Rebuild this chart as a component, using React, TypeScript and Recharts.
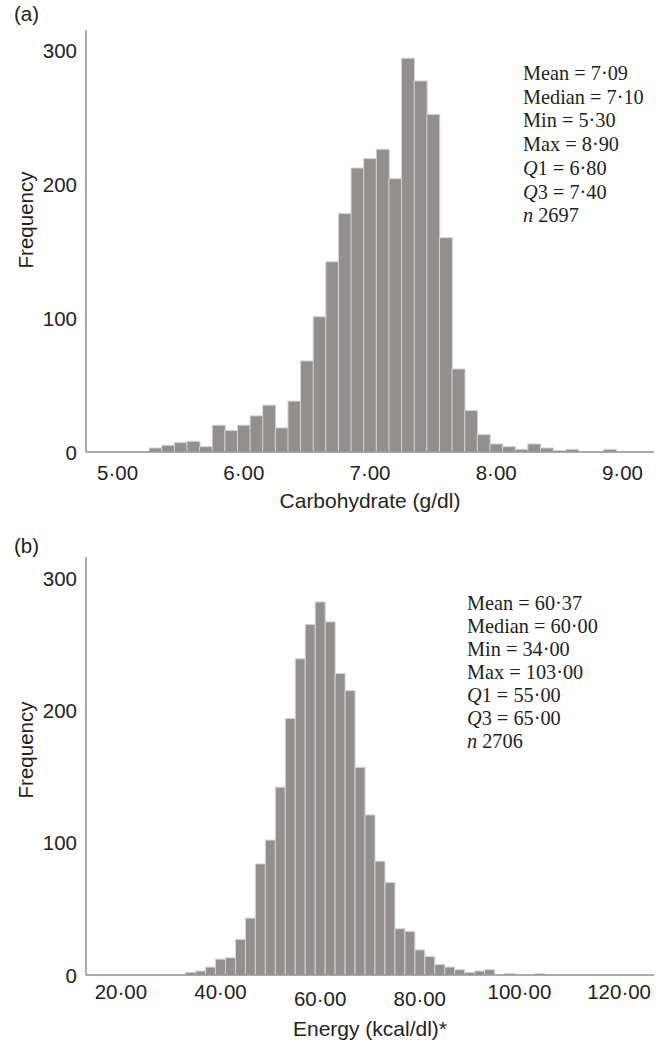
import React from 'react';
import { BarChart, Bar, XAxis, YAxis } from 'recharts';

// ---------- Data: (a) Carbohydrate (g/dl) ----------
const carbBins = [
  5.3, 5.4, 5.5, 5.6, 5.7, 5.8, 5.9, 6.0, 6.1, 6.2, 6.3, 6.4, 6.5, 6.6, 6.7, 6.8, 6.9,
  7.0, 7.1, 7.2, 7.3, 7.4, 7.5, 7.6, 7.7, 7.8, 7.9, 8.0, 8.1, 8.2, 8.3, 8.4, 8.5, 8.6,
  8.7, 8.8, 8.9,
];
const carbCounts = [
  3, 5, 7, 8, 4, 20, 16, 20, 27, 35, 18, 38, 68, 101, 142, 178, 212,
  219, 226, 204, 294, 277, 252, 160, 62, 31, 13, 6, 4, 2, 6, 3, 1, 2,
  0, 0, 2,
];
const carbAxisRange = [4.75, 9.25];
const carbBinWidth = 0.1;
const carbTicks = [5, 6, 7, 8, 9];
const carbYTicks = [0, 100, 200, 300];
const carbYMax = 315;
const carbStats = [
  ['', 'Mean = 7·09'],
  ['', 'Median = 7·10'],
  ['', 'Min = 5·30'],
  ['', 'Max = 8·90'],
  ['Q', '1 = 6·80'],
  ['Q', '3 = 7·40'],
  ['n', ' 2697'],
];

// ---------- Data: (b) Energy (kcal/dl) ----------
const energyBins = [
  34, 36, 38, 40, 42, 44, 46, 48, 50, 52, 54, 56, 58, 60, 62, 64, 66, 68, 70, 72,
  74, 76, 78, 80, 82, 84, 86, 88, 90, 92, 94, 96, 98, 100, 102, 104,
];
const energyCounts = [
  2, 3, 6, 12, 13, 27, 43, 84, 102, 142, 194, 239, 265, 282, 267, 228, 215, 157, 121, 86,
  70, 35, 33, 19, 14, 8, 6, 4, 2, 3, 4, 0, 1, 0, 0, 1,
];
const energyAxisRange = [13, 127];
const energyBinWidth = 2;
const energyTicks = [20, 40, 60, 80, 100, 120];
const energyLoweredTicks = [60, 80];
const energyYTicks = [0, 100, 200, 300];
const energyYMax = 316;
const energyStats = [
  ['', 'Mean = 60·37'],
  ['', 'Median = 60·00'],
  ['', 'Min = 34·00'],
  ['', 'Max = 103·00'],
  ['Q', '1 = 55·00'],
  ['Q', '3 = 65·00'],
  ['n', ' 2706'],
];

// ---------- helpers ----------
const SANS = '"Liberation Sans", Arial, Helvetica, sans-serif';
const SERIF = '"Liberation Serif", "Times New Roman", serif';
const TEXT = '#231f20';
const BAR_FILL = '#948f8f';
const BAR_EDGE = '#d6d4d4';
const AXIS = '#8e8e8e';
const FS = 20.5;

const fmt = (v: number) => v.toFixed(2).replace('.', '·');

function buildTable(bins: number[], counts: number[], range: number[], w: number) {
  const rows: { bin: string; center: number; count: number }[] = [];
  const n = Math.round((range[1] - range[0]) / w);
  for (let i = 0; i < n; i++) {
    const center = range[0] + w / 2 + i * w;
    const idx = bins.findIndex((b) => Math.abs(b - center) < w / 4);
    rows.push({ bin: center.toFixed(3), center, count: idx >= 0 ? counts[idx] : 0 });
  }
  return rows;
}

const carbTable = buildTable(carbBins, carbCounts, carbAxisRange, carbBinWidth);
const energyTable = buildTable(energyBins, energyCounts, energyAxisRange, energyBinWidth);

type HistProps = {
  table: { bin: string; center: number; count: number }[];
  binWidth: number;
  ticks: number[];
  lowered?: number[];
  tickDy: number;
  loweredDy?: number;
  yTicks: number[];
  yMax: number;
  marginTop: number;
  xAxisHeight: number;
};

const CHART_W = 666;
const CHART_H = 521;
const Y_AXIS_W = 86;
const RIGHT = 12;

function Histogram({
  table, binWidth, ticks, lowered = [], tickDy, loweredDy = 0, yTicks, yMax, marginTop, xAxisHeight,
}: HistProps) {
  const XTick = (p: any) => {
    const v = parseFloat(p.payload.value);
    const t = ticks.find((tk) => Math.abs(tk - v) < binWidth / 4);
    if (t === undefined) return <g />;
    const low = lowered.includes(t);
    return (
      <text
        x={p.x}
        y={p.y}
        dy={low ? loweredDy : tickDy}
        textAnchor="middle"
        dominantBaseline="central"
        fontSize={FS}
        fontFamily={SANS}
        fill={TEXT}
      >
        {fmt(t)}
      </text>
    );
  };
  const YTick = (p: any) => (
    <text
      x={p.x}
      y={p.y}
      textAnchor="end"
      dominantBaseline="central"
      fontSize={FS}
      fontFamily={SANS}
      fill={TEXT}
    >
      {p.payload.value}
    </text>
  );
  return (
    <BarChart
      width={CHART_W}
      height={CHART_H}
      data={table}
      margin={{ top: marginTop, right: RIGHT, left: 0, bottom: 0 }}
      barCategoryGap={0}
      barGap={0}
    >
      <XAxis
        dataKey="bin"
        type="category"
        interval={0}
        height={xAxisHeight}
        tickLine={false}
        tickSize={0}
        tickMargin={0}
        axisLine={{ stroke: AXIS, strokeWidth: 1.5 }}
        tick={XTick}
      />
      <YAxis
        type="number"
        domain={[0, yMax]}
        ticks={yTicks}
        allowDataOverflow
        width={Y_AXIS_W}
        tickLine={false}
        tickSize={0}
        tickMargin={9}
        axisLine={{ stroke: AXIS, strokeWidth: 1.5 }}
        tick={YTick}
      />
      <Bar
        dataKey="count"
        fill={BAR_FILL}
        stroke={BAR_EDGE}
        strokeWidth={1}
        isAnimationActive={false}
      />
    </BarChart>
  );
}

function Stats({ lines, x, y, step }: { lines: string[][]; x: number; y: number; step: number }) {
  return (
    <>
      {lines.map((l, i) => (
        <text
          key={i}
          x={x}
          y={y + i * step}
          dominantBaseline="central"
          fontSize={20.3}
          fontFamily={SERIF}
          fill={TEXT}
        >
          {l[0] ? <tspan fontStyle="italic">{l[0]}</tspan> : null}
          {l[1]}
        </text>
      ))}
    </>
  );
}

export default function App() {
  const plotCenterX = Y_AXIS_W + (CHART_W - Y_AXIS_W - RIGHT) / 2;
  return (
    <div
      style={{
        position: 'absolute',
        left: 0,
        top: 0,
        width: 666,
        height: 1042,
        background: '#ffffff',
        overflow: 'hidden',
      }}
    >
      <div style={{ position: 'absolute', left: 0, top: 0 }}>
        <Histogram
          table={carbTable}
          binWidth={carbBinWidth}
          ticks={carbTicks}
          tickDy={20}
          yTicks={carbYTicks}
          yMax={carbYMax}
          marginTop={30}
          xAxisHeight={69}
        />
      </div>
      <div style={{ position: 'absolute', left: 0, top: CHART_H }}>
        <Histogram
          table={energyTable}
          binWidth={energyBinWidth}
          ticks={energyTicks}
          lowered={energyLoweredTicks}
          tickDy={16}
          loweredDy={23}
          yTicks={energyYTicks}
          yMax={energyYMax}
          marginTop={36}
          xAxisHeight={67}
        />
      </div>
      <svg
        width={666}
        height={1042}
        style={{ position: 'absolute', left: 0, top: 0, pointerEvents: 'none' }}
      >
        <text x={14} y={13} dominantBaseline="central" fontSize={FS} fontFamily={SANS} fill={TEXT}>(a)</text>
        <text x={14} y={545} dominantBaseline="central" fontSize={FS} fontFamily={SANS} fill={TEXT}>(b)</text>
        <text
          transform={`translate(25, 220) rotate(-90)`}
          textAnchor="middle"
          dominantBaseline="central"
          fontSize={FS}
          fontFamily={SANS}
          fill={TEXT}
        >
          Frequency
        </text>
        <text
          transform={`translate(25, 750) rotate(-90)`}
          textAnchor="middle"
          dominantBaseline="central"
          fontSize={FS}
          fontFamily={SANS}
          fill={TEXT}
        >
          Frequency
        </text>
        <text x={plotCenterX} y={500} textAnchor="middle" dominantBaseline="central" fontSize={21} fontFamily={SANS} fill={TEXT}>
          Carbohydrate (g/dl)
        </text>
        <text x={plotCenterX} y={1028} textAnchor="middle" dominantBaseline="central" fontSize={21} fontFamily={SANS} fill={TEXT}>
          Energy (kcal/dl)*
        </text>
        <Stats lines={carbStats} x={523} y={73} step={23.7} />
        <Stats lines={energyStats} x={467} y={603} step={23} />
      </svg>
    </div>
  );
}
